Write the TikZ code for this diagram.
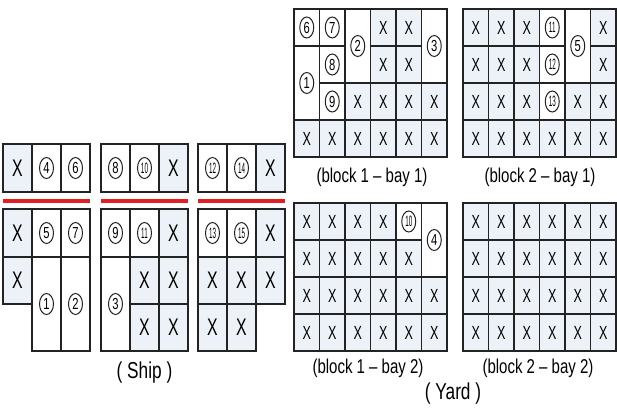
\documentclass[tikz,border=0pt]{standalone}
\usepackage{fontspec}
\setmainfont{Liberation Sans}
\newfontfamily\condlab[FakeStretch=0.75]{Liberation Sans}
\newfontfamily\condx[FakeStretch=0.66]{Liberation Sans}
\newfontfamily\condn[FakeStretch=0.7]{Liberation Sans}
\newfontfamily\condnn[FakeStretch=0.42]{Liberation Sans}
\usetikzlibrary{shapes.geometric}
\definecolor{cellfill}{RGB}{236,242,248}
\definecolor{gridline}{RGB}{35,35,35}
\definecolor{redbar}{RGB}{226,32,36}
\tikzset{
  cellbase/.style={draw=gridline, line width=1.3pt, inner sep=0pt, outer sep=0pt, anchor=north west},
  xcell/.style={cellbase, fill=cellfill},
  ncell/.style={cellbase, fill=white},
  shipx/.style={font=\condx\fontsize{24}{24}\selectfont},
  yardx/.style={font=\condx\fontsize{19}{19}\selectfont},
  ring/.style={ellipse, draw=gridline, line width=1pt, inner sep=0pt,
    minimum width=14pt, minimum height=21pt, font=\condn\fontsize{16}{16}\selectfont},
  ringtwo/.style={ring, font=\condnn\fontsize{15}{15}\selectfont},
  outline/.style={draw=gridline, line width=2.2pt},
  redline/.style={draw=redbar, line width=3.5pt},
  caption/.style={font=\condlab\fontsize{20}{20}\selectfont, inner sep=0pt},
  bigcaption/.style={font=\condlab\fontsize{23}{23}\selectfont, inner sep=0pt}
}
% ship cell: style, name, x, y, w, h, text
\newcommand{\shc}[7]{\node[#1, minimum width=#5pt, minimum height=#6pt] (#2) at (#3pt,-#4pt) {#7};}
% yard cell: style, name, blockx, blocky, col, row, rowspan, text
\newcommand{\ydc}[8]{\node[#1, minimum width=25.5pt, minimum height={#7*37pt}] (#2) at ({(#3+#5*25.5)*1pt},{-(#4+#6*37)*1pt}) {#8};}
\begin{document}
\begin{tikzpicture}
\useasboundingbox[fill=white] (0pt,0pt) rectangle (617pt,-409pt);

% ================= SHIP =================
% left group
\shc{xcell,shipx}{sLt0}{3}{144}{29}{48}{X}
\shc{ncell}{sLt1}{32}{144}{29}{48}{}
\shc{ncell}{sLt2}{61}{144}{29}{48}{}
\shc{xcell,shipx}{sLa0}{3}{209}{29}{48}{X}
\shc{ncell}{sLa1}{32}{209}{29}{48}{}
\shc{ncell}{sLa2}{61}{209}{29}{48}{}
\shc{xcell,shipx}{sLb0}{3}{257}{29}{47}{X}
\shc{ncell}{sLb1}{32}{257}{29}{94}{}
\shc{ncell}{sLb2}{61}{257}{29}{94}{}
\node[ring] (r4) at (sLt1) {4};
\node[ring] (r6) at (sLt2) {6};
\node[ring] (r5) at (sLa1) {5};
\node[ring] (r7) at (sLa2) {7};
\node[ring] (r1) at (sLb1) {1};
\node[ring] (r2) at (sLb2) {2};
% middle group
\shc{ncell}{sMt0}{101}{144}{29}{48}{}
\shc{ncell}{sMt1}{130}{144}{29}{48}{}
\shc{xcell,shipx}{sMt2}{159}{144}{29}{48}{X}
\shc{ncell}{sMa0}{101}{209}{29}{48}{}
\shc{ncell}{sMa1}{130}{209}{29}{48}{}
\shc{xcell,shipx}{sMa2}{159}{209}{29}{48}{X}
\shc{ncell}{sMb0}{101}{257}{29}{94}{}
\shc{xcell,shipx}{sMb1}{130}{257}{29}{47}{X}
\shc{xcell,shipx}{sMb2}{159}{257}{29}{47}{X}
\shc{xcell,shipx}{sMc1}{130}{304}{29}{47}{X}
\shc{xcell,shipx}{sMc2}{159}{304}{29}{47}{X}
\node[ring] (r8) at (sMt0) {8};
\node[ringtwo] (r10) at (sMt1) {10};
\node[ring] (r9) at (sMa0) {9};
\node[ringtwo] (r11) at (sMa1) {11};
\node[ring] (r3) at (sMb0) {3};
% right group
\shc{ncell}{sRt0}{198}{144}{29}{48}{}
\shc{ncell}{sRt1}{227}{144}{29}{48}{}
\shc{xcell,shipx}{sRt2}{256}{144}{29}{48}{X}
\shc{ncell}{sRa0}{198}{209}{29}{48}{}
\shc{ncell}{sRa1}{227}{209}{29}{48}{}
\shc{xcell,shipx}{sRa2}{256}{209}{29}{48}{X}
\shc{xcell,shipx}{sRb0}{198}{257}{29}{47}{X}
\shc{xcell,shipx}{sRb1}{227}{257}{29}{47}{X}
\shc{xcell,shipx}{sRb2}{256}{257}{29}{47}{X}
\shc{xcell,shipx}{sRc0}{198}{304}{29}{47}{X}
\shc{xcell,shipx}{sRc1}{227}{304}{29}{47}{X}
\node[ringtwo] (r12) at (sRt0) {12};
\node[ringtwo] (r14) at (sRt1) {14};
\node[ringtwo] (r13) at (sRa0) {13};
\node[ringtwo] (r15) at (sRa1) {15};
% thick tops
\draw[outline] (sLt0.north west) -- (sLt2.north east);
\draw[outline] (sMt0.north west) -- (sMt2.north east);
\draw[outline] (sRt0.north west) -- (sRt2.north east);
% red deck lines
\coordinate (redL1) at ([yshift=-9pt]sLt0.south west);
\coordinate (redL2) at ([yshift=-9pt]sLt2.south east);
\coordinate (redM1) at ([yshift=-9pt]sMt0.south west);
\coordinate (redM2) at ([yshift=-9pt]sMt2.south east);
\coordinate (redR1) at ([yshift=-9pt]sRt0.south west);
\coordinate (redR2) at ([yshift=-9pt]sRt2.south east);
\draw[redline] (redL1) -- (redL2);
\draw[redline] (redM1) -- (redM2);
\draw[redline] (redR1) -- (redR2);
\node[bigcaption] (shipcap) at (144.5pt,-373pt) {( Ship )};

% ================= YARD =================
% block 1 - bay 1
\ydc{ncell}{aa00}{294}{9}{0}{0}{1}{}
\ydc{ncell}{aa10}{294}{9}{1}{0}{1}{}
\ydc{ncell}{aa20}{294}{9}{2}{0}{2}{}
\ydc{xcell,yardx}{aa30}{294}{9}{3}{0}{1}{X}
\ydc{xcell,yardx}{aa40}{294}{9}{4}{0}{1}{X}
\ydc{ncell}{aa50}{294}{9}{5}{0}{2}{}
\ydc{ncell}{aa01}{294}{9}{0}{1}{2}{}
\ydc{ncell}{aa11}{294}{9}{1}{1}{1}{}
\ydc{xcell,yardx}{aa31}{294}{9}{3}{1}{1}{X}
\ydc{xcell,yardx}{aa41}{294}{9}{4}{1}{1}{X}
\ydc{ncell}{aa12}{294}{9}{1}{2}{1}{}
\foreach \c in {2,...,5} {\ydc{xcell,yardx}{aa\c2}{294}{9}{\c}{2}{1}{X}}
\foreach \c in {0,...,5} {\ydc{xcell,yardx}{aa\c3}{294}{9}{\c}{3}{1}{X}}
\node[ring] (y6) at (aa00) {6};
\node[ring] (y7) at (aa10) {7};
\node[ring] (y2) at (aa20) {2};
\node[ring] (y3) at (aa50) {3};
\node[ring] (y1) at (aa01) {1};
\node[ring] (y8) at (aa11) {8};
\node[ring] (y9) at (aa12) {9};
\draw[outline] (aa00.north west) rectangle (aa53.south east);
\node[caption] (capa) at (372pt,-177pt) {(block 1 – bay 1)};

% block 2 - bay 1
\foreach \c in {0,...,2} {\ydc{xcell,yardx}{ab\c0}{463}{9}{\c}{0}{1}{X}}
\ydc{ncell}{ab30}{463}{9}{3}{0}{1}{}
\ydc{ncell}{ab40}{463}{9}{4}{0}{2}{}
\ydc{xcell,yardx}{ab50}{463}{9}{5}{0}{1}{X}
\foreach \c in {0,...,2} {\ydc{xcell,yardx}{ab\c1}{463}{9}{\c}{1}{1}{X}}
\ydc{ncell}{ab31}{463}{9}{3}{1}{1}{}
\ydc{xcell,yardx}{ab51}{463}{9}{5}{1}{1}{X}
\foreach \c in {0,...,2} {\ydc{xcell,yardx}{ab\c2}{463}{9}{\c}{2}{1}{X}}
\ydc{ncell}{ab32}{463}{9}{3}{2}{1}{}
\ydc{xcell,yardx}{ab42}{463}{9}{4}{2}{1}{X}
\ydc{xcell,yardx}{ab52}{463}{9}{5}{2}{1}{X}
\foreach \c in {0,...,5} {\ydc{xcell,yardx}{ab\c3}{463}{9}{\c}{3}{1}{X}}
\node[ringtwo] (y11) at (ab30) {11};
\node[ring] (y5) at (ab40) {5};
\node[ringtwo] (y12) at (ab31) {12};
\node[ringtwo] (y13) at (ab32) {13};
\draw[outline] (ab00.north west) rectangle (ab53.south east);
\node[caption] (capb) at (540pt,-177pt) {(block 2 – bay 1)};

% block 1 - bay 2
\foreach \c in {0,...,3} {\ydc{xcell,yardx}{ac\c0}{294}{203}{\c}{0}{1}{X}}
\ydc{ncell}{ac40}{294}{203}{4}{0}{1}{}
\ydc{ncell}{ac50}{294}{203}{5}{0}{2}{}
\foreach \c in {0,...,4} {\ydc{xcell,yardx}{ac\c1}{294}{203}{\c}{1}{1}{X}}
\foreach \c in {0,...,5} {\ydc{xcell,yardx}{ac\c2}{294}{203}{\c}{2}{1}{X}}
\foreach \c in {0,...,5} {\ydc{xcell,yardx}{ac\c3}{294}{203}{\c}{3}{1}{X}}
\node[ringtwo] (y10) at (ac40) {10};
\node[ring] (y4) at (ac50) {4};
\draw[outline] (ac00.north west) rectangle (ac53.south east);
\node[caption] (capc) at (368pt,-368pt) {(block 1 – bay 2)};

% block 2 - bay 2
\foreach \r in {0,...,3} {
  \foreach \c in {0,...,5} {\ydc{xcell,yardx}{ad\c\r}{463}{203}{\c}{\r}{1}{X}}
}
\draw[outline] (ad00.north west) rectangle (ad53.south east);
\node[caption] (capd) at (538pt,-368pt) {(block 2 – bay 2)};

\node[bigcaption] (yardcap) at (453pt,-394pt) {( Yard )};
\end{tikzpicture}
\end{document}
